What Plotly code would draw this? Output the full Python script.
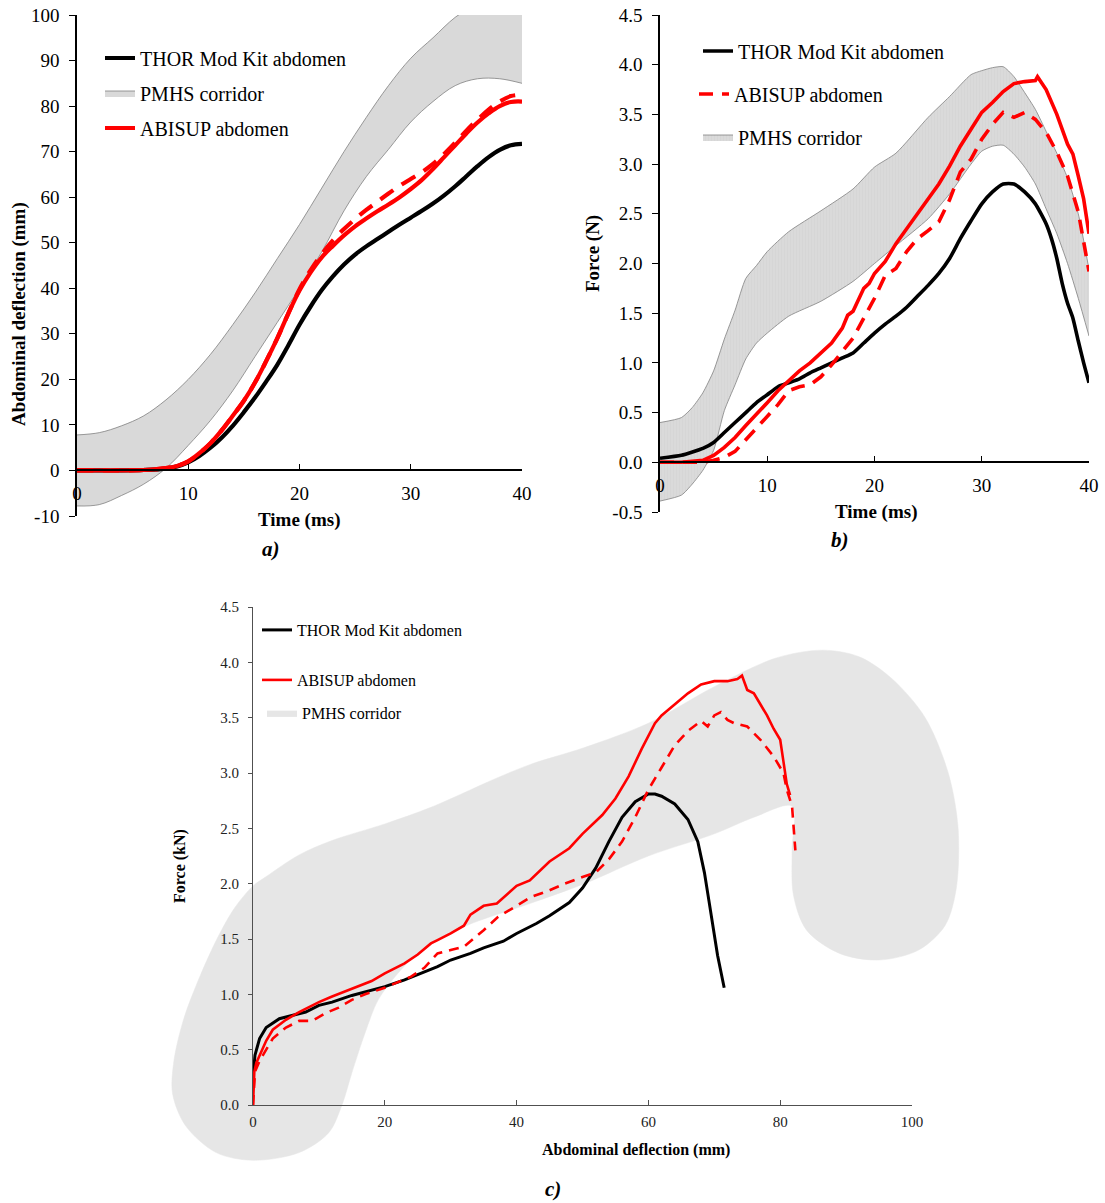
import plotly.graph_objects as go

W, H = 1105, 1203
FONT = '"Liberation Serif", "Times New Roman", Times, "DejaVu Serif", serif'

# ---------------- Panel a data (time ms, deflection mm) ----------------
t_corr_a = [0, 2, 4, 6, 8, 10, 12, 14, 16, 18, 20, 22, 24, 26, 28, 30, 32, 34, 36, 38, 40]
corr_a_upper = [7.8, 8.3, 9.8, 12, 15.5, 20, 25.5, 32, 39, 46.5, 54, 62, 70, 77.5, 84.5, 90.5, 95, 99.5, 102.5, 105, 107]
corr_a_lower = [-7.8, -7.5, -5.5, -3, 0.5, 5.5, 11, 17.5, 25, 32.5, 40, 48, 57, 64.5, 70.5, 76.5, 81, 84.5, 86, 86, 85]

t_a = [0, 2, 4, 6, 8, 9, 10, 11, 12, 13, 14, 15, 16, 17, 18, 19, 20, 21, 22, 23, 24, 25, 26, 27, 28, 29, 30,
       31, 32, 33, 34, 35, 36, 37, 38, 39, 40]
thor_a = [0, 0, 0, 0.1, 0.4, 0.9, 1.8, 3.2, 5, 7.2, 9.8, 12.8, 16, 19.5, 23.2, 27.5, 32, 36, 39.6, 42.6, 45.2,
          47.4, 49.2, 50.8, 52.4, 54, 55.5, 57, 58.6, 60.4, 62.4, 64.6, 66.8, 68.8, 70.4, 71.4, 71.7]
abisup_a_solid = [0, 0, 0, 0.1, 0.5, 1, 2, 3.8, 6, 8.8, 12, 15.3, 19.3, 24, 29, 34.5, 39.5, 43.5, 46.8, 49.3,
                  51.6, 53.6, 55.3, 56.9, 58.4, 60, 61.8, 63.8, 66.2, 68.8, 71.4, 74, 76.4, 78.4, 80, 80.9, 81]
abisup_a_dash = [0, 0, 0, 0.1, 0.5, 1, 2, 3.8, 6, 8.8, 12, 15.3, 19.3, 24, 29, 34.5, 39.8, 44, 47.5, 50.5,
                 53, 55.2, 57.2, 59, 60.8, 62.5, 64, 65.5, 67.3, 69.5, 72, 74.6, 77, 79.2, 81, 82.2, 82.5]
ticks_a = [-10, 0, 10, 20, 30, 40, 50, 60, 70, 80, 90, 100]
ticks_a_text = ["-10", "0", "10", "20", "30", "40", "50", "60", "70", "80", "90", "100"]

# ---------------- Panel b data (time ms, force) ----------------
t_corr_b = [0, 2, 3, 4, 5, 6, 7, 8, 9, 10, 12, 15, 18, 20, 22, 25, 27, 29, 30, 31, 32, 33, 34, 35, 36, 37, 38, 39, 40]
corr_b_upper = [0.40, 0.45, 0.55, 0.70, 0.92, 1.24, 1.53, 1.85, 1.98, 2.12, 2.32, 2.53, 2.75, 2.97, 3.11, 3.47,
                3.68, 3.90, 3.94, 3.97, 3.98, 3.88, 3.72, 3.55, 3.33, 3.11, 2.86, 2.50, 1.94]
corr_b_lower = [-0.39, -0.33, -0.22, -0.08, 0.12, 0.52, 0.78, 1.04, 1.20, 1.30, 1.47, 1.62, 1.82, 2.00, 2.18,
                2.45, 2.70, 3.00, 3.13, 3.18, 3.19, 3.10, 2.97, 2.80, 2.55, 2.30, 2.00, 1.65, 1.27]

t_b_thor = [0, 2, 4, 5, 6, 7, 8, 9, 10, 11, 12, 13, 14, 15, 16, 17, 18, 19, 20, 21, 22, 23, 24, 25, 26, 27, 28,
            29, 30, 31, 32, 33, 34, 35, 36, 36.5, 37, 37.5, 38, 38.5, 39, 39.5, 40]
thor_b = [0.04, 0.07, 0.14, 0.2, 0.3, 0.4, 0.5, 0.6, 0.68, 0.76, 0.8, 0.84, 0.9, 0.95, 1.0, 1.05, 1.1, 1.2, 1.3,
          1.39, 1.47, 1.56, 1.67, 1.78, 1.9, 2.05, 2.25, 2.43, 2.6, 2.72, 2.8, 2.8, 2.72, 2.6, 2.4, 2.25, 2.05,
          1.8, 1.6, 1.45, 1.22, 1.0, 0.8]

t_b_solid = [0, 2, 4, 5, 6, 7, 8, 9, 10, 11, 12, 13, 14, 15, 16, 17, 17.5, 18, 19, 19.5, 20, 21, 22, 23, 24, 25,
             26, 27, 28, 29, 30, 31, 32, 33, 34, 35, 35.2, 36, 37, 38, 38.5, 39, 39.5, 40]
abisup_b_solid = [0, 0, 0.02, 0.07, 0.15, 0.25, 0.37, 0.48, 0.6, 0.72, 0.82, 0.92, 1.0, 1.1, 1.2, 1.35, 1.48,
                  1.52, 1.75, 1.8, 1.9, 2.02, 2.2, 2.35, 2.5, 2.64, 2.8, 2.98, 3.18, 3.35, 3.52, 3.62, 3.73,
                  3.81, 3.83, 3.84, 3.88, 3.75, 3.5, 3.2, 3.1, 2.88, 2.65, 2.3]

t_b_dash = [0, 4, 5, 6, 7, 8, 9, 10, 11, 12, 13, 14, 15, 16, 17, 18, 19, 20, 21, 22, 23, 24, 25, 26, 27, 28, 29,
            30, 31, 32, 33, 34, 35, 36, 37, 38, 39, 40]
abisup_b_dash = [0, 0, 0.02, 0.05, 0.11, 0.23, 0.34, 0.47, 0.58, 0.72, 0.76, 0.78, 0.86, 0.98, 1.12, 1.25, 1.45,
                 1.65, 1.88, 1.95, 2.12, 2.25, 2.33, 2.42, 2.64, 2.92, 3.05, 3.25, 3.4, 3.52, 3.47, 3.52, 3.45,
                 3.32, 3.12, 2.88, 2.52, 1.92]
ticks_b = [-0.5, 0, 0.5, 1.0, 1.5, 2.0, 2.5, 3.0, 3.5, 4.0, 4.5]
ticks_b_text = ["-0.5", "0.0", "0.5", "1.0", "1.5", "2.0", "2.5", "3.0", "3.5", "4.0", "4.5"]

# ---------------- Panel c data (deflection mm, force kN) ----------------
corr_c_x = [0, 1.9, 7, 12, 20, 27, 37.2, 42.2, 50.3, 60, 70, 79.4, 86.5, 92, 97, 102, 105.5, 107, 106.7, 105,
            101, 95, 89, 84, 82, 81.8, 81.8, 76, 70, 60, 50.3, 42, 32, 25, 22, 19, 17, 15, 13.5, 11.5, 7, 0,
            -5.6, -10.2, -12.2, -12, -10.5, -8, -5.3, -2.8, 0]
corr_c_y = [1.98, 2.06, 2.26, 2.39, 2.54, 2.69, 2.96, 3.08, 3.23, 3.45, 3.78, 4.04, 4.11, 4.05, 3.85, 3.5, 3.0,
            2.5, 1.95, 1.62, 1.4, 1.31, 1.37, 1.58, 1.9, 2.3, 2.7, 2.6, 2.45, 2.25, 2.0, 1.82, 1.61, 1.37, 1.19,
            0.95, 0.65, 0.29, 0, -0.25, -0.43, -0.5, -0.43, -0.19, 0.1, 0.4, 0.78, 1.17, 1.52, 1.78, 1.98]

d_c_thor = [0, 0.3, 1, 2, 4, 6, 8, 10, 12, 15, 18, 20, 23, 25, 28, 30, 33, 35, 38, 40, 43, 45, 48, 50, 52, 54,
            56, 58, 60, 61, 62, 64, 66, 67.5, 68.5, 69.2, 69.8, 70.5, 71.5]
thor_c = [0.25, 0.45, 0.6, 0.7, 0.78, 0.81, 0.84, 0.9, 0.93, 0.99, 1.04, 1.07, 1.13, 1.18, 1.25, 1.31, 1.37,
          1.42, 1.48, 1.55, 1.64, 1.71, 1.83, 1.96, 2.14, 2.38, 2.6, 2.74, 2.81, 2.81, 2.79, 2.72, 2.58, 2.38,
          2.1, 1.84, 1.6, 1.35, 1.06]

d_c_solid = [0, 0.2, 0.5, 1, 2, 3, 5, 7, 10, 12, 15, 18, 20, 23, 25, 27, 28, 30, 32, 33, 35, 37, 40, 42, 45, 48,
             50, 53, 55, 57, 59, 61, 62, 64, 66, 68, 70, 72, 73.5, 74.2, 75, 76, 77, 78, 79, 80, 80.5, 81, 81.5]
abisup_c_solid = [0, 0.3, 0.38, 0.45, 0.58, 0.68, 0.77, 0.84, 0.93, 0.98, 1.05, 1.12, 1.19, 1.28, 1.36, 1.46,
                  1.49, 1.55, 1.62, 1.72, 1.8, 1.82, 1.98, 2.03, 2.2, 2.32, 2.45, 2.62, 2.77, 2.97, 3.22, 3.45,
                  3.52, 3.62, 3.72, 3.8, 3.83, 3.83, 3.85, 3.88, 3.75, 3.72, 3.62, 3.52, 3.4, 3.3, 3.1, 2.9, 2.8]

d_c_dash = [0, 0.3, 1, 2, 3, 5, 7, 9, 11, 13, 15, 17, 20, 22, 24, 26, 28, 30, 32, 35, 37.2, 40, 42.2, 45, 47.3,
            50, 52, 54, 56, 58, 60, 62, 64, 66, 68, 69, 70, 71, 72, 73, 75, 77, 79, 80.5, 81, 81.8, 82, 82.3]
abisup_c_dash = [0, 0.3, 0.4, 0.5, 0.6, 0.7, 0.76, 0.76, 0.83, 0.88, 0.95, 1.0, 1.06, 1.11, 1.16, 1.24, 1.37,
                 1.4, 1.43, 1.58, 1.7, 1.8, 1.88, 1.94, 2.0, 2.06, 2.1, 2.22, 2.38, 2.6, 2.85, 3.05, 3.25, 3.38,
                 3.47, 3.42, 3.52, 3.55, 3.48, 3.45, 3.42, 3.3, 3.15, 3.0, 2.85, 2.7, 2.5, 2.3]

# ---------------- layout helpers (pixel -> paper) ----------------
def px(x):
    return x / W

def py(y):
    return 1 - y / H

RED = "#ff0000"
fig = go.Figure()

# ----- panel a -----
fig.add_trace(go.Scatter(x=t_corr_a, y=corr_a_lower, mode="lines",
                         line=dict(color="#808080", width=0.8, shape="spline"),
                         showlegend=False, xaxis="x", yaxis="y", hoverinfo="skip"))
fig.add_trace(go.Scatter(x=t_corr_a, y=corr_a_upper, mode="lines", fill="tonexty", fillcolor="#d9d9d9",
                         line=dict(color="#808080", width=0.8, shape="spline"), name="PMHS corridor",
                         legend="legend2", xaxis="x", yaxis="y"))
fig.add_trace(go.Scatter(x=t_a, y=thor_a, mode="lines", line=dict(color="black", width=4.2, shape="spline"),
                         name="THOR Mod Kit abdomen", legend="legend", xaxis="x", yaxis="y"))
fig.add_trace(go.Scatter(x=t_a, y=abisup_a_dash, mode="lines",
                         line=dict(color=RED, width=4.2, dash="16px,10px", shape="spline"),
                         showlegend=False, xaxis="x", yaxis="y"))
fig.add_trace(go.Scatter(x=t_a, y=abisup_a_solid, mode="lines", line=dict(color=RED, width=4.2, shape="spline"),
                         name="ABISUP abdomen", legend="legend3", xaxis="x", yaxis="y"))

# ----- panel b -----
fig.add_trace(go.Scatter(x=t_corr_b, y=corr_b_lower, mode="lines",
                         line=dict(color="#808080", width=0.8, shape="spline", smoothing=0.6),
                         showlegend=False, xaxis="x2", yaxis="y2", hoverinfo="skip"))
fig.add_trace(go.Scatter(x=t_corr_b, y=corr_b_upper, mode="lines", fill="tonexty", fillcolor="#d9d9d9",
                         fillpattern=dict(shape="|", size=3, solidity=0.12, fgcolor="#c2c2c2",
                                          bgcolor="#dadada"),
                         line=dict(color="#808080", width=0.8, shape="spline", smoothing=0.6),
                         name="PMHS corridor", legend="legend6", xaxis="x2", yaxis="y2"))
fig.add_trace(go.Scatter(x=t_b_thor, y=thor_b, mode="lines",
                         line=dict(color="black", width=3.6, shape="spline", smoothing=0.5),
                         name="THOR Mod Kit abdomen", legend="legend4", xaxis="x2", yaxis="y2"))
fig.add_trace(go.Scatter(x=t_b_solid, y=abisup_b_solid, mode="lines", line=dict(color=RED, width=3.6),
                         showlegend=False, xaxis="x2", yaxis="y2"))
fig.add_trace(go.Scatter(x=t_b_dash, y=abisup_b_dash, mode="lines",
                         line=dict(color=RED, width=3.6, dash="14px,9px"),
                         name="ABISUP abdomen", legend="legend5", xaxis="x2", yaxis="y2"))

# ----- panel c -----
fig.add_trace(go.Scatter(x=corr_c_x, y=corr_c_y, mode="lines", fill="toself", fillcolor="#e6e6e6",
                         line=dict(color="#e6e6e6", width=0.5, shape="spline", smoothing=0.9),
                         name="PMHS corridor", legend="legend9", xaxis="x3", yaxis="y3"))
fig.add_trace(go.Scatter(x=d_c_thor, y=thor_c, mode="lines", line=dict(color="black", width=3),
                         name="THOR Mod Kit abdomen", legend="legend7", xaxis="x4", yaxis="y4"))
fig.add_trace(go.Scatter(x=d_c_dash, y=abisup_c_dash, mode="lines",
                         line=dict(color=RED, width=2.6, dash="10px,7px"),
                         showlegend=False, xaxis="x4", yaxis="y4"))
fig.add_trace(go.Scatter(x=d_c_solid, y=abisup_c_solid, mode="lines", line=dict(color=RED, width=2.6),
                         name="ABISUP abdomen", legend="legend8", xaxis="x4", yaxis="y4"))

# ---------------- axes ----------------
tick_ab = dict(family=FONT, size=19, color="black")
tick_c = dict(family=FONT, size=15, color="#222222")

# panel a
ya_dom = [py(516), py(15)]
zero_a = ya_dom[0] + (0 - (-10)) / 110 * (ya_dom[1] - ya_dom[0])
fig.update_layout(
    xaxis=dict(domain=[px(77), px(522)], range=[0, 40], anchor="free", position=zero_a,
               showline=True, linecolor="black", linewidth=1.5, ticks="inside", ticklen=6,
               tickcolor="black", tickvals=[0, 10, 20, 30, 40], tickfont=tick_ab, showgrid=False,
               zeroline=False, ticklabelstandoff=6),
    yaxis=dict(domain=ya_dom, range=[-10, 100], anchor="x", showline=True, linecolor="black",
               linewidth=1.5, ticks="outside", ticklen=6, tickcolor="black",
               tickvals=ticks_a, ticktext=ticks_a_text,
               tickfont=tick_ab, showgrid=False, zeroline=False, ticklabelstandoff=6),
)
# panel b
yb_dom = [py(512), py(15)]
zero_b = yb_dom[0] + 0.5 / 5.0 * (yb_dom[1] - yb_dom[0])
fig.update_layout(
    xaxis2=dict(domain=[px(660), px(1089)], range=[0, 40], anchor="free", position=zero_b,
                showline=True, linecolor="black", linewidth=1.5, ticks="inside", ticklen=6,
                tickcolor="black", tickvals=[0, 10, 20, 30, 40], tickfont=tick_ab, showgrid=False,
                zeroline=False, ticklabelstandoff=6),
    yaxis2=dict(domain=yb_dom, range=[-0.5, 4.5], anchor="x2", showline=True, linecolor="black",
                linewidth=1.5, ticks="outside", ticklen=6, tickcolor="black",
                tickvals=ticks_b, ticktext=ticks_b_text,
                tickfont=tick_ab, showgrid=False, zeroline=False, ticklabelstandoff=6),
)
# panel c: main axes 253..912 px (0..100 mm), 1105..607 px (0..4.5 kN)
mm_per_px = 100 / (912 - 253)
kn_per_px = 4.5 / (1105 - 607)
cx0, cx1, cy_top, cy_bot = 160, 985, 600, 1185
fig.update_layout(
    xaxis3=dict(domain=[px(cx0), px(cx1)], range=[(cx0 - 253) * mm_per_px, (cx1 - 253) * mm_per_px],
                anchor="y3", visible=False, fixedrange=True),
    yaxis3=dict(domain=[py(cy_bot), py(cy_top)], range=[(1105 - cy_bot) * kn_per_px, (1105 - cy_top) * kn_per_px],
                anchor="x3", visible=False, fixedrange=True),
    xaxis4=dict(domain=[px(253), px(912)], range=[0, 100], anchor="y4", showline=True, linecolor="#505050",
                linewidth=1, ticks="inside", ticklen=5, tickcolor="#505050", dtick=20, tick0=0,
                tickfont=tick_c, showgrid=False, zeroline=False, ticklabelstandoff=3),
    yaxis4=dict(domain=[py(1105), py(607)], range=[0, 4.5], anchor="x4", showline=True, linecolor="#505050",
                linewidth=1, ticks="outside", ticklen=4, tickcolor="#505050", dtick=0.5, tick0=0,
                tickformat=".1f", tickfont=tick_c, showgrid=False, zeroline=False, ticklabelstandoff=6),
)

# ---------------- legends (one per item for exact placement) ----------------
def leg(xp, yp, size):
    return dict(x=px(xp), y=py(yp), xanchor="left", yanchor="middle", bgcolor="rgba(0,0,0,0)",
                borderwidth=0, font=dict(family=FONT, size=size, color="black"), tracegroupgap=0)

fig.update_layout(
    legend=leg(100, 58, 20), legend2=leg(100, 93, 20), legend3=leg(100, 128, 20),
    legend4=leg(698, 51, 20), legend5=leg(694, 94, 20), legend6=leg(698, 137, 20),
    legend7=leg(257, 630, 16), legend8=leg(257, 680, 16), legend9=leg(262, 713, 16),
)

# ---------------- titles & panel labels ----------------
def ann(text, xp, yp, size, angle=0):
    return dict(text=text, x=px(xp), y=py(yp), xref="paper", yref="paper", showarrow=False,
                xanchor="center", yanchor="middle", textangle=angle,
                font=dict(family=FONT, size=size, color="black"))

fig.update_layout(annotations=[
    ann("<b>Abdominal deflection (mm)</b>", 19, 314, 19, -90),
    ann("<b>Time (ms)</b>", 299, 520, 19),
    ann("<b><i>a)</i></b>", 271, 549, 21),
    ann("<b>Force (N)</b>", 593, 254, 19, -90),
    ann("<b>Time (ms)</b>", 876, 512, 19),
    ann("<b><i>b)</i></b>", 840, 540, 21),
    ann("<b>Force (kN)</b>", 180, 866, 16, -90),
    ann("<b>Abdominal deflection (mm)</b>", 636, 1150, 16),
    ann("<b><i>c)</i></b>", 553, 1189, 21),
])

fig.update_layout(width=W, height=H, margin=dict(l=0, r=0, t=0, b=0, pad=0, autoexpand=False),
                  paper_bgcolor="white", plot_bgcolor="rgba(0,0,0,0)",
                  font=dict(family=FONT, color="black"))

fig.write_html("out.html", post_script="document.body.style.margin='0';")
